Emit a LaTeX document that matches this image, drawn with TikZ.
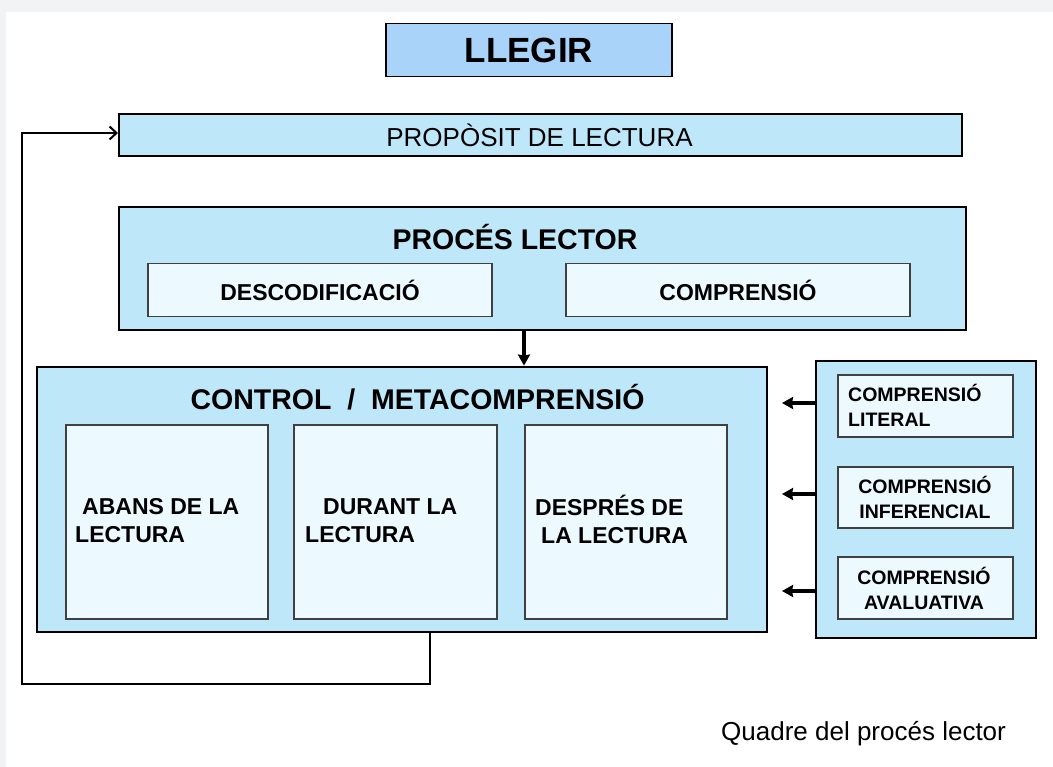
\documentclass[tikz,border=0pt]{standalone}
\usepackage{fontspec}
\setmainfont{Liberation Sans}
\usetikzlibrary{arrows.meta}
\definecolor{bgray}{HTML}{F2F3F5}
\definecolor{topblue}{HTML}{AAD3FA}
\definecolor{midblue}{HTML}{BEE8FA}
\definecolor{paleblue}{HTML}{ECF9FE}
\tikzset{
  box/.style={draw=black, line width=2pt, fill=midblue, inner sep=0pt},
  bigbox/.style={draw=black, line width=2.8pt, fill=midblue, inner sep=0pt},
  inbox/.style={draw=black!75, line width=1.3pt, fill=paleblue, inner sep=0pt},
  title/.style={font=\bfseries\fontsize{28.5}{32}\selectfont, inner sep=0pt},
  intext/.style={font=\bfseries\fontsize{23}{28}\selectfont, align=left, inner sep=0pt, anchor=west},
  rtext/.style={font=\bfseries\fontsize{19.5}{25}\selectfont, align=center, inner sep=0pt},
  thickarrow/.style={line width=3.4pt, -{Stealth[length=11pt,width=12pt,inset=1pt]}},
  fb/.style={line width=2pt}
}
\begin{document}
\begin{tikzpicture}[x=1pt,y=-1pt]
\useasboundingbox (0,0) rectangle (1053,767);
\fill[bgray] (0,0) rectangle (1053,767);
\fill[white] (6,12) rectangle (1053,767);

\node[box, fill=topblue, line width=1.4pt, minimum width=286pt, minimum height=53pt,
  font=\bfseries\fontsize{35}{38}\selectfont] (llegir) at (529,50) {LLEGIR};

\node[box, minimum width=843pt, minimum height=42pt] (prop) at (540.5,135) {};
\node[font=\fontsize{26}{30}\selectfont, inner sep=0pt] (propt) at (539.5,135.5) {PROPÒSIT DE LECTURA};

\node[bigbox, minimum width=847pt, minimum height=123pt] (proces) at (542.5,268.5) {};
\node[title] (procest) at (515,237.5) {PROCÉS LECTOR};
\node[inbox, minimum width=344pt, minimum height=53pt, font=\bfseries\fontsize{23}{26}\selectfont] (desc) at (320,290) {DESCODIFICACIÓ};
\node[inbox, minimum width=344pt, minimum height=53pt, font=\bfseries\fontsize{23}{26}\selectfont] (comp) at (738,290) {COMPRENSIÓ};

\node[bigbox, minimum width=730pt, minimum height=265pt] (control) at (402,499.5) {};
\node[title] (controlt) at (417.5,397) {CONTROL \ / \ METACOMPRENSIÓ};
\node[inbox, minimum width=202pt, minimum height=194pt] (abans) at (167,522) {};
\node[inbox, minimum width=203pt, minimum height=194pt] (durant) at (395.5,522) {};
\node[inbox, minimum width=202pt, minimum height=194pt] (despres) at (626,522) {};
\node[intext] (abanst) at (75,521) {\hspace*{7pt}ABANS DE LA\\LECTURA};
\node[intext] (durantt) at (305,521) {\hspace*{18pt}DURANT LA\\LECTURA};
\node[intext] (desprest) at (535,519) {DESPRÉS DE\\\hspace*{6pt}LA LECTURA};

\node[box, minimum width=220pt, minimum height=277pt] (right) at (926,499.5) {};
\node[inbox, minimum width=175pt, minimum height=62pt] (lit) at (925.5,406) {};
\node[inbox, minimum width=175pt, minimum height=61pt] (inf) at (925.5,497.5) {};
\node[inbox, minimum width=175pt, minimum height=62pt] (aval) at (925.5,588) {};
\node[rtext, align=left, anchor=west] (litt) at (848,405.5) {COMPRENSIÓ\\LITERAL};
\node[rtext] (inft) at (925,497.5) {COMPRENSIÓ\\INFERENCIAL};
\node[rtext] (avalt) at (924,588.5) {COMPRENSIÓ\\AVALUATIVA};

\draw[thickarrow] (proces.south -| 524,0) -- (control.north -| 524,0);
\draw[thickarrow] (right.west |- 0,403) -- (782,403);
\draw[thickarrow] (right.west |- 0,494) -- (782,494);
\draw[thickarrow] (right.west |- 0,591) -- (782,591);

\coordinate (c1) at (430,684);
\coordinate (c2) at (22,684);
\coordinate (c3) at (22,133);
\draw[fb, -{Straight Barb[length=7pt,width=13pt]}] (control.south -| c1) -- (c1) -- (c2) -- (c3) -- (prop.west |- c3);

\node[font=\fontsize{26}{29}\selectfont, inner sep=0pt, anchor=west] (caption) at (721,734) {Quadre del procés lector};
\end{tikzpicture}
\end{document}
